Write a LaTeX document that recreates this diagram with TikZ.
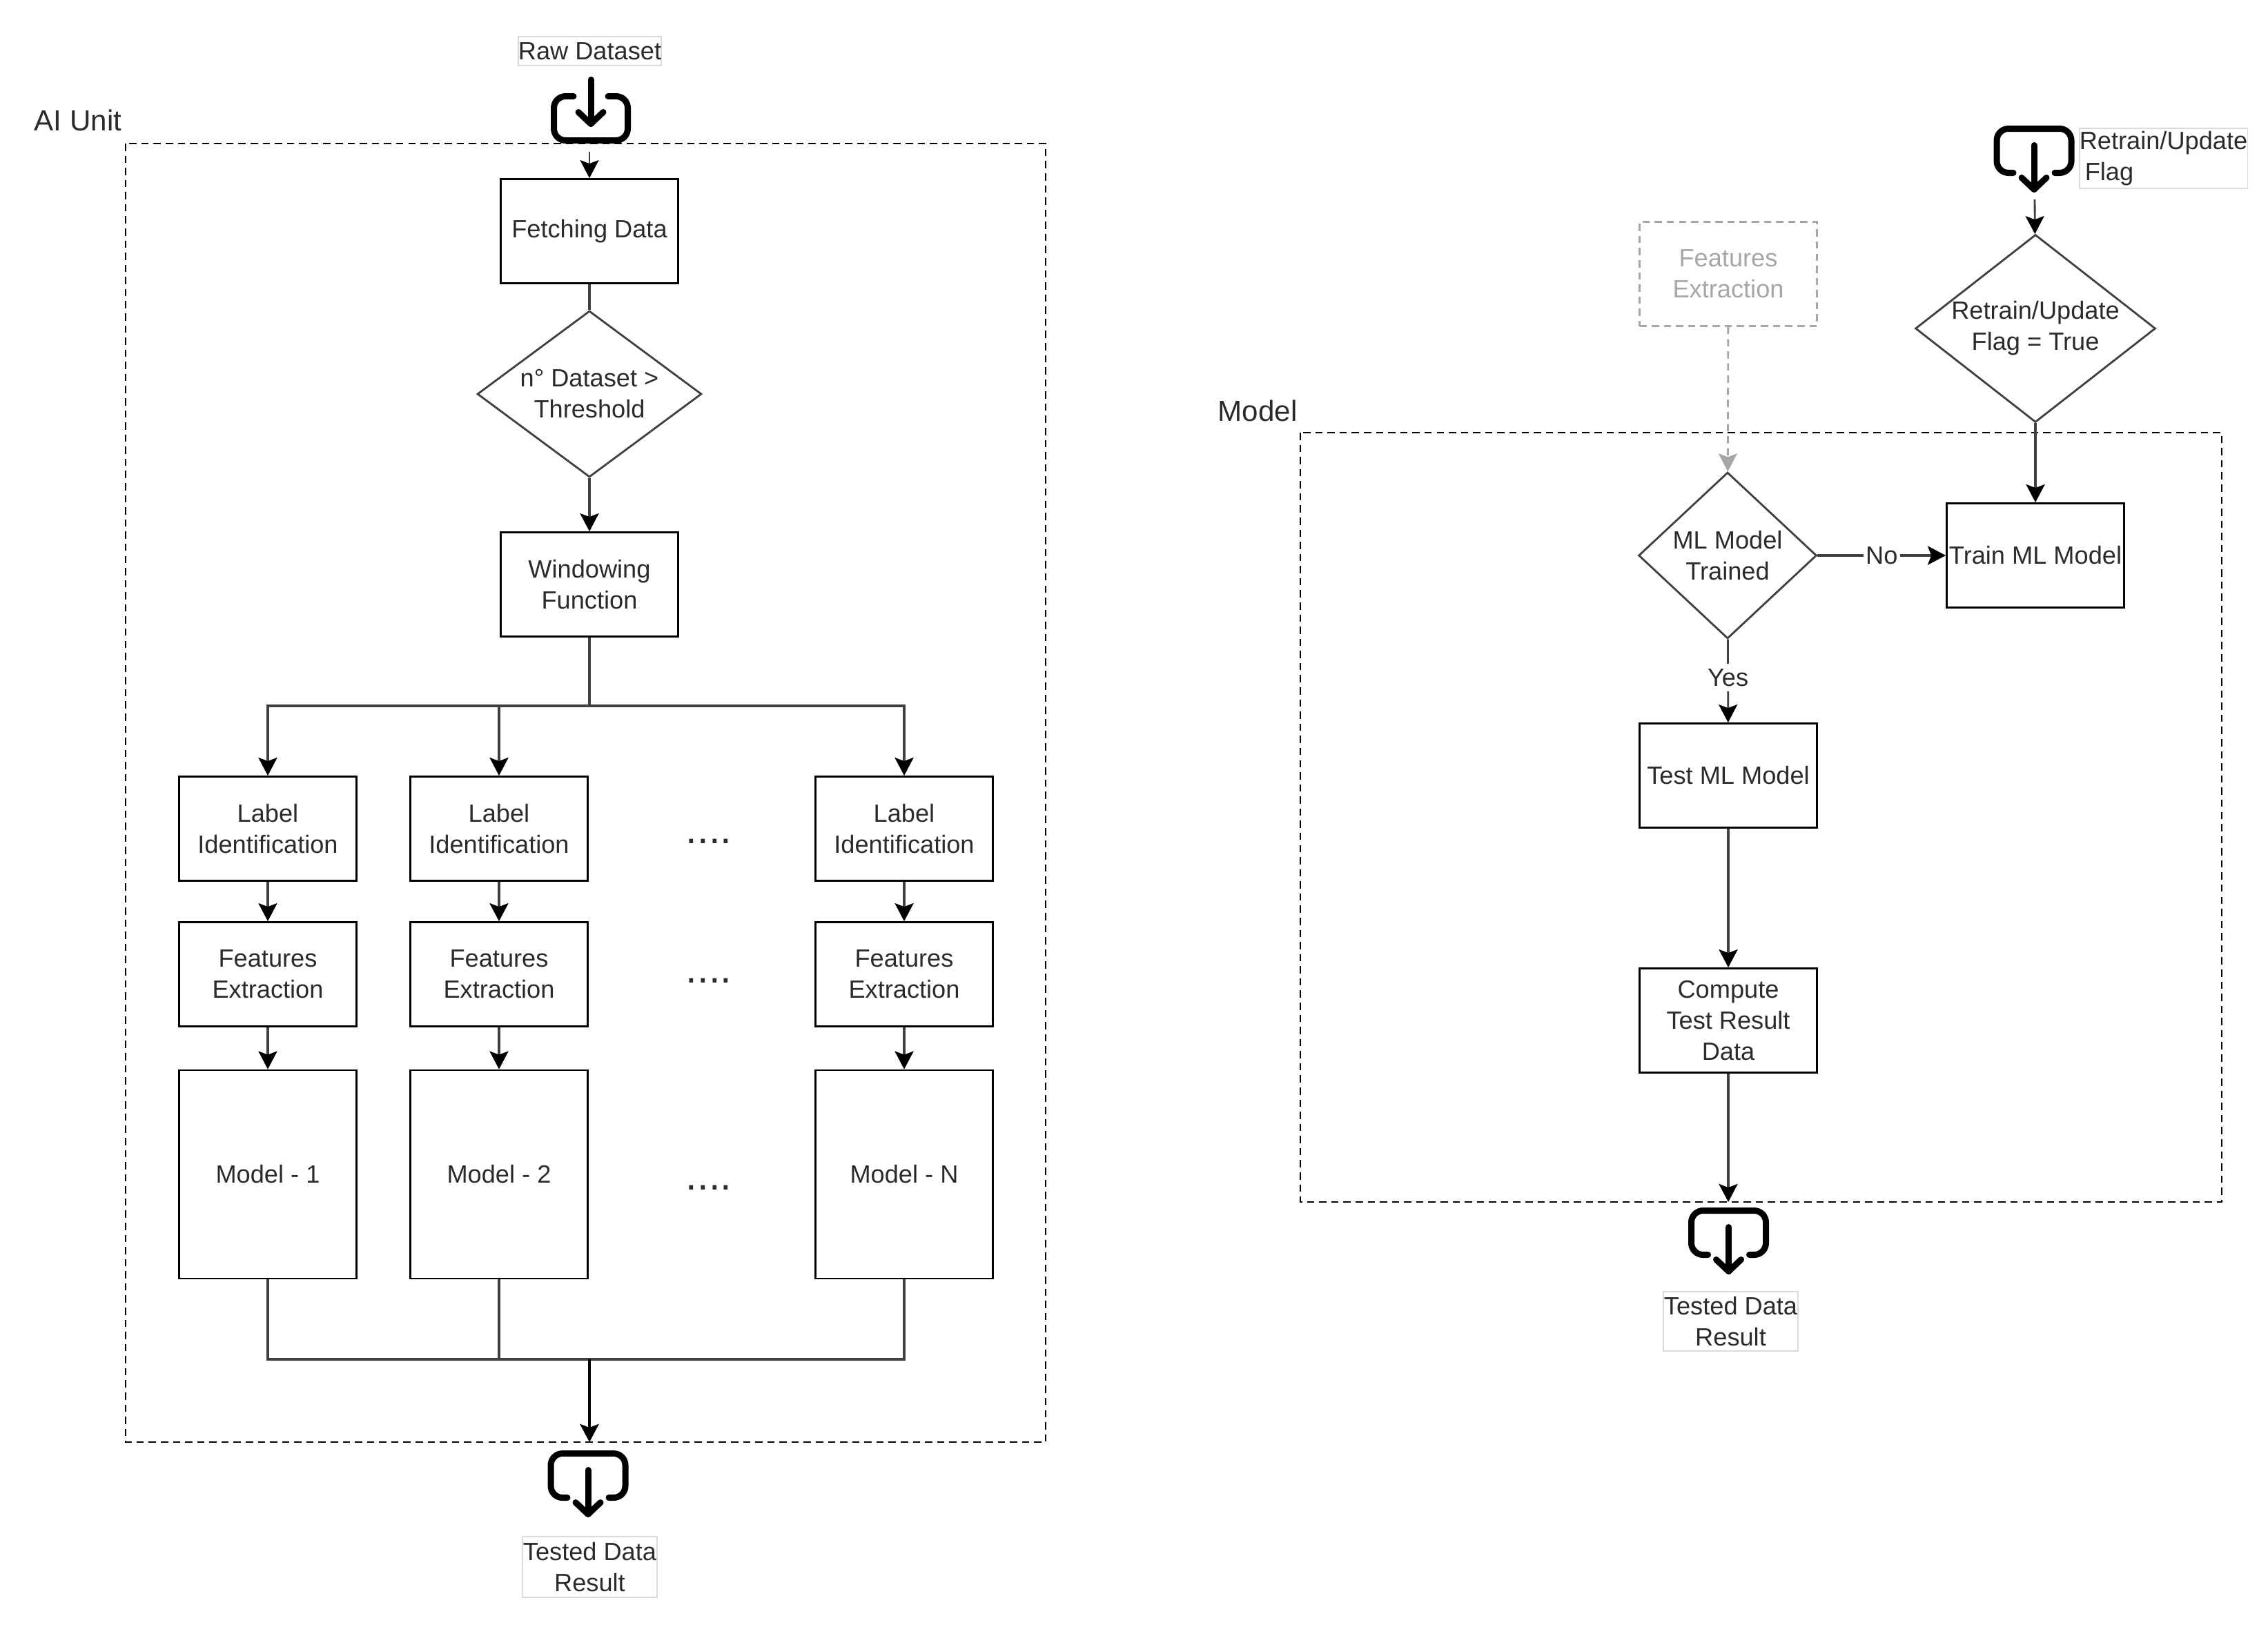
\documentclass[tikz,border=0pt]{standalone}
\usepackage{fontspec}
\setmainfont{Liberation Sans}
\usetikzlibrary{shapes.geometric,arrows.meta}
\definecolor{linegray}{HTML}{404040}
\definecolor{fadegray}{HTML}{A6A6A6}
\definecolor{textgray}{HTML}{2B2B2B}
\tikzset{
  every node/.style={font=\fontsize{10.3}{12.8}\selectfont,text=textgray,align=center},
  procbox/.style={draw=black,line width=0.8pt,minimum width=2.57cm,minimum height=1.51cm,inner sep=0pt},
  modelbox/.style={procbox,minimum height=3.02cm},
  choice/.style={diamond,draw=linegray,line width=0.8pt,inner sep=-0.1cm},
  iolabel/.style={draw=black!15,line width=0.4pt,inner sep=0pt},
  unitbox/.style={draw=black,densely dashed,line width=0.8pt},
  unitlabel/.style={font=\fontsize{12}{14}\selectfont},
  flow/.style={draw=linegray,line width=1.1pt,-{Stealth[length=0.26cm,width=0.27cm,inset=0.05cm,color=black]}},
  fadeflow/.style={draw=fadegray,densely dashed,line width=0.8pt,-{Stealth[length=0.26cm,width=0.27cm,inset=0.05cm,color=fadegray]}},
  plain/.style={draw=linegray,line width=1.1pt},
  edgetext/.style={fill=white,inner xsep=1pt,inner ysep=2pt},
  dotsrow/.style={font=\fontsize{17}{17}\selectfont,anchor=base},
  iconline/.style={line width=0.09cm,line cap=round,line join=round,draw=black},
  pics/fileout/.style={code={
    \draw[iconline,rounded corners=0.17cm] (-0.3,-0.64) -- (-0.54,-0.64) -- (-0.54,0) -- (0.54,0) -- (0.54,-0.64) -- (0.3,-0.64);
    \draw[iconline] (0,-0.24) -- (0,-0.88);
    \draw[iconline] (-0.18,-0.71) -- (0,-0.88) -- (0.18,-0.71);
  }},
  pics/filein/.style={code={
    \draw[iconline,rounded corners=0.17cm] (-0.25,0) -- (-0.535,0) -- (-0.535,-0.64) -- (0.535,-0.64) -- (0.535,0) -- (0.25,0);
    \draw[iconline] (0,0.24) -- (0,-0.4);
    \draw[iconline] (-0.18,-0.23) -- (0,-0.4) -- (0.18,-0.23);
  }},
}
\begin{document}
\begin{tikzpicture}
\useasboundingbox (0,0) rectangle (32.86,-23.57);
% AI unit
\draw[unitbox] (1.82,-2.08) rectangle (15.15,-20.90);
\node[unitlabel] (aiunit) at (1.13,-1.74) {AI Unit};
\node[iolabel,minimum width=2.07cm,minimum height=0.42cm] (rawdata) at (8.545,-0.74) {Raw Dataset};
\pic at (8.56,-1.395) {filein};
\coordinate (rawout) at (8.54,-2.20);
\node[procbox] (fetch) at (8.54,-3.35) {Fetching Data};
\node[choice,aspect=1.35,minimum width=3.25cm,minimum height=2.41cm] (enough) at (8.54,-5.71) {n° Dataset >\\Threshold};
\node[procbox] (window) at (8.54,-8.47) {Windowing\\Function};
\coordinate (split) at (8.54,-10.23);
\coordinate (merge) at (8.54,-19.70);
\coordinate (aiend) at (8.54,-20.90);
\draw[flow,line width=0.8pt] (rawout) -- (fetch);
\draw[plain] (fetch) -- (enough);
\draw[flow] (enough) -- (window);
\draw[plain] (window) -- (split);
\foreach \n/\x/\t in {1/3.88/1,2/7.23/2,3/13.10/N} {
  \node[procbox] (label\n) at (\x,-12.01) {Label\\Identification};
  \node[procbox] (feat\n) at (\x,-14.12) {Features\\Extraction};
  \node[modelbox] (model\n) at (\x,-17.02) {Model - \t};
  \draw[flow] (split) -| (label\n);
  \draw[flow] (label\n) -- (feat\n);
  \draw[flow] (feat\n) -- (model\n);
  \draw[plain] (model\n) |- (merge);
}
\node[dotsrow] (dots1) at (10.27,-12.22) {....};
\node[dotsrow] (dots2) at (10.27,-14.24) {....};
\node[dotsrow] (dots3) at (10.27,-17.24) {....};
\draw[flow,draw=black,line width=1.4pt] (merge) -- (aiend);
\pic at (8.52,-21.065) {fileout};
\node[iolabel,minimum width=1.95cm,minimum height=0.88cm] (aires) at (8.545,-22.71) {Tested Data\\Result};
% model unit
\draw[unitbox] (18.84,-6.27) rectangle (32.19,-17.42);
\node[unitlabel] (modelunit) at (18.22,-5.95) {Model};
\node[procbox,draw=fadegray,densely dashed,text=fadegray] (featin) at (25.04,-3.97) {Features\\Extraction};
\pic at (29.47,-1.865) {fileout};
\node[iolabel,minimum width=2.43cm,minimum height=0.87cm,align=left] (flagtxt) at (31.345,-2.295) {Retrain/Update\\\hspace{0.08cm}Flag};
\coordinate (flagout) at (29.48,-2.89);
\node[choice,aspect=1.28,minimum width=3.48cm,minimum height=2.72cm] (flagset) at (29.49,-4.76) {Retrain/Update\\Flag = True};
\node[choice,aspect=1.07,minimum width=2.58cm,minimum height=2.41cm] (trained) at (25.03,-8.05) {ML Model\\Trained};
\node[procbox] (train) at (29.49,-8.05) {Train ML Model};
\node[procbox] (test) at (25.04,-11.24) {Test ML Model};
\node[procbox] (compute) at (25.04,-14.79) {Compute\\Test Result\\Data};
\coordinate (modelend) at (25.04,-17.42);
\draw[flow,line width=0.8pt] (flagout) -- (flagset);
\draw[flow] (flagset) -- (train);
\draw[fadeflow] (featin) -- (trained);
\draw[flow] (trained) -- node[edgetext,pos=0.5] (nolabel) {No} (train);
\draw[flow,line width=0.8pt] (trained) -- node[edgetext,pos=0.46] (yeslabel) {Yes} (test);
\draw[flow] (test) -- (compute);
\draw[flow] (compute) -- (modelend);
\pic at (25.045,-17.545) {fileout};
\node[iolabel,minimum width=1.95cm,minimum height=0.86cm] (modelres) at (25.075,-19.15) {Tested Data\\Result};
\end{tikzpicture}
\end{document}
